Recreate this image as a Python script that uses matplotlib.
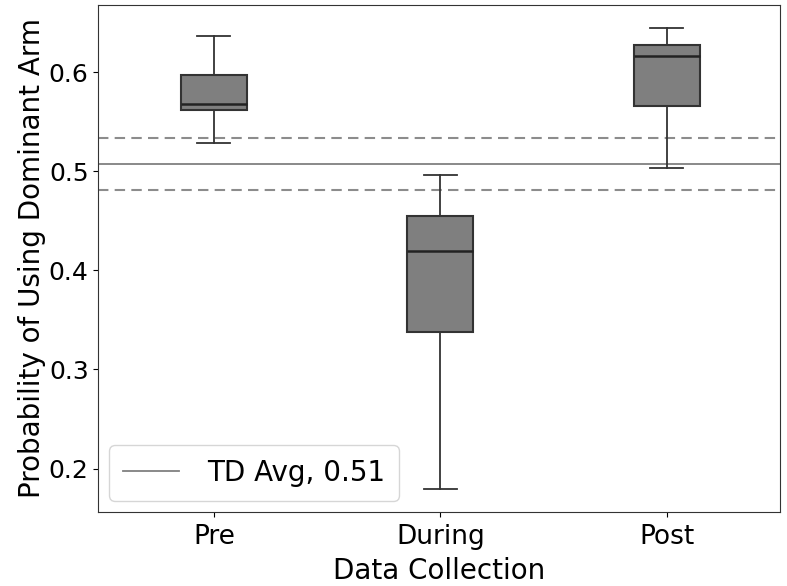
"""Dominant arm use probability across data collection phases, vs TD average."""
import matplotlib
matplotlib.use("Agg")
import matplotlib.pyplot as plt

phases = ["Pre", "During", "Post"]
whisker_low = [0.528, 0.179, 0.503]
q1 = [0.562, 0.338, 0.566]
median = [0.568, 0.419, 0.616]
q3 = [0.597, 0.455, 0.627]
whisker_high = [0.636, 0.496, 0.644]

td_avg = 0.507
td_band = [0.481, 0.533]

plt.rcParams["font.family"] = "DejaVu Sans"

fig = plt.figure(figsize=(7.87, 5.86), dpi=100)
ax = fig.add_axes([0.125, 0.126, 0.866, 0.866])

stats = [
    {"label": p, "whislo": lo, "q1": a, "med": m, "q3": b, "whishi": hi, "fliers": []}
    for p, lo, a, m, b, hi in zip(phases, whisker_low, q1, median, q3, whisker_high)
]
ax.bxp(
    stats,
    positions=[1, 2, 3],
    widths=0.29,
    patch_artist=True,
    showfliers=False,
    boxprops=dict(facecolor="#7f7f7f", edgecolor="#333333", linewidth=1.5),
    medianprops=dict(color="#222222", linewidth=1.8),
    whiskerprops=dict(color="#333333", linewidth=1.3),
    capprops=dict(color="#333333", linewidth=1.3),
)

ax.axhline(td_avg, color="#808080", linewidth=1.3, label=f"TD Avg, {td_avg:.2f}", zorder=1)
for y in td_band:
    ax.axhline(y, color="#8c8c8c", linewidth=1.5, linestyle=(0, (5, 3)), zorder=1)

ax.set_xlim(0.49, 3.5)
ax.set_ylim(0.156, 0.668)
ax.set_yticks([0.2, 0.3, 0.4, 0.5, 0.6])
ax.tick_params(axis="x", labelsize=19, pad=5)
ax.tick_params(axis="y", labelsize=18)
ax.set_xlabel("Data Collection", fontsize=20, labelpad=5)
ax.set_ylabel("Probability of Using Dominant Arm", fontsize=20, labelpad=2)
ax.legend(loc="lower left", fontsize=20, handlelength=2.0, handletextpad=1.0,
          borderpad=0.5, borderaxespad=0.4)
for s in ax.spines.values():
    s.set_color("#333333")

fig.savefig("out.png", dpi=100)
